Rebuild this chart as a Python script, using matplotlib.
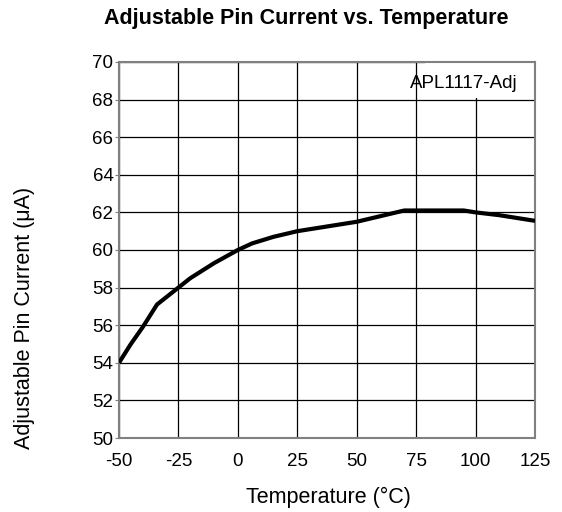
import numpy as np
import matplotlib.pyplot as plt
from matplotlib.patches import Rectangle

plt.rcParams['font.family'] = ['Liberation Sans', 'DejaVu Sans']
plt.rcParams['axes.unicode_minus'] = False

# values
temp = [-50, -45, -40, -34, -25, -20, -10, 0, 6, 15, 25, 35, 45, 50, 60, 70, 95, 100, 110, 125]
current = [54.0, 55.0, 55.9, 57.1, 58.0, 58.5, 59.3, 60.0, 60.35, 60.7, 61.0, 61.2, 61.4, 61.5,
           61.8, 62.1, 62.1, 62.0, 61.85, 61.55]

xticks = [-50, -25, 0, 25, 50, 75, 100, 125]
yticks = [50, 52, 54, 56, 58, 60, 62, 64, 66, 68, 70]

fig = plt.figure(figsize=(5.62, 5.12), dpi=100)
ax = fig.add_axes([0.2117, 0.1445, 0.7403, 0.7345])
ax.set_axisbelow(True)

ax.plot(temp, current, color='black', lw=3, solid_capstyle='butt', zorder=3)

ax.set_xlim(-50, 125)
ax.set_ylim(50, 70)
ax.set_xticks(xticks)
ax.set_yticks(yticks)
ax.grid(True, color='black', lw=0.9)
for s in ax.spines.values():
    s.set_color('#808080')
    s.set_linewidth(1.5)
ax.tick_params(axis='x', labelsize=13.5, length=0, pad=11)
ax.tick_params(axis='y', labelsize=13.5, length=3, pad=1, color='#808080')

# white label box in the top right corner
ax.add_patch(Rectangle((0.736, 0.904), 0.264, 0.096, transform=ax.transAxes,
                       facecolor='white', edgecolor='none', zorder=2))
ax.text(0.957, 0.965, 'APL1117-Adj', transform=ax.transAxes, ha='right', va='top',
        fontsize=13.5, zorder=4)

fig.text(0.585, 0.029, 'Temperature (°C)', ha='center', va='center', fontsize=15.5)
fig.text(0.043, 0.379, 'Adjustable Pin Current (μA)', rotation=90, ha='center', va='center',
         fontsize=15.5)
fig.text(0.545, 0.963, 'Adjustable Pin Current vs. Temperature', ha='center', va='center',
         fontsize=15.5, fontweight='bold')

fig.savefig('out.png', dpi=100)
